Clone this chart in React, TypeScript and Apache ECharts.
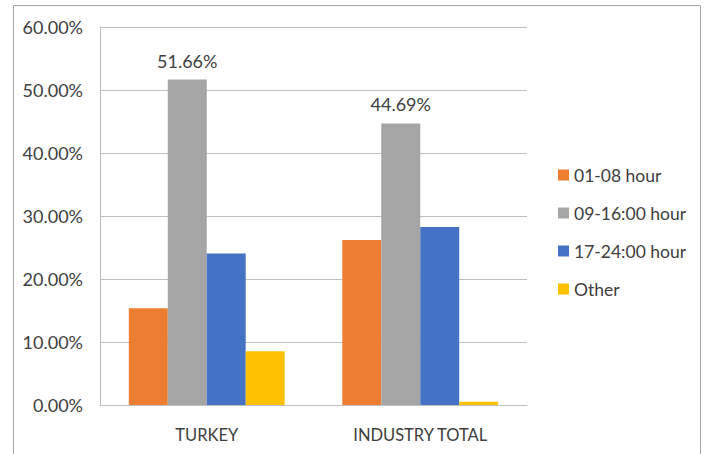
import React, { useEffect, useRef } from "react";
import * as echarts from "echarts";

const categories = ["TURKEY", "INDUSTRY TOTAL"];
const seriesNames = ["01-08 hour", "09-16:00 hour", "17-24:00 hour", "Other"];
const hours0108 = [0.1535, 0.262];
const hours0916 = [0.5166, 0.4469];
const hours1724 = [0.2406, 0.2827];
const other = [0.0853, 0.0052];
const colors = ["#ED7D31", "#A5A5A5", "#4472C4", "#FFC000"];
const yTicks = [0, 0.1, 0.2, 0.3, 0.4, 0.5, 0.6];

export default function App() {
  const ref = useRef<HTMLDivElement>(null);
  useEffect(() => {
    document.body.style.margin = "0";
    const chart = echarts.init(ref.current!, null, { renderer: "svg" });
    const font = "Lato";
    const textColor = "#404040";
    const data = [hours0108, hours0916, hours1724, other];
    chart.setOption({
      animation: false,
      backgroundColor: "#ffffff",
      textStyle: { fontFamily: font },
      graphic: [
        {
          type: "rect",
          shape: { x: 13.5, y: 5.5, width: 687, height: 470 },
          style: { fill: "none", stroke: "#a6a6a6", lineWidth: 1 },
          silent: true,
        },
      ],
      grid: { left: 100, top: 27, width: 427, height: 378, containLabel: false },
      legend: {
        orient: "vertical",
        left: 558,
        top: 166,
        padding: 0,
        itemWidth: 11,
        itemHeight: 11,
        itemGap: 20,
        icon: "rect",
        data: seriesNames,
        textStyle: { fontFamily: font, fontSize: 17.5, color: textColor },
      },
      xAxis: {
        type: "category",
        data: categories,
        axisLine: { show: true, lineStyle: { color: "#bfbfbf", width: 1 } },
        axisTick: { show: false },
        axisLabel: { fontFamily: font, fontSize: 16.5, color: textColor, margin: 21 },
      },
      yAxis: {
        type: "value",
        min: yTicks[0],
        max: yTicks[yTicks.length - 1],
        interval: 0.1,
        axisLine: { show: true, lineStyle: { color: "#bfbfbf", width: 1 } },
        axisTick: { show: false },
        splitLine: { show: true, lineStyle: { color: "#bfbfbf", width: 1 } },
        axisLabel: {
          fontFamily: font,
          fontSize: 18,
          color: textColor,
          margin: 17,
          formatter: (v: number) => (v * 100).toFixed(2) + "%",
        },
      },
      series: seriesNames.map((name, i) => ({
        name,
        type: "bar",
        data: data[i],
        barGap: "0%",
        barCategoryGap: "27%",
        itemStyle: { color: colors[i] },
        label:
          i === 1
            ? {
                show: true,
                position: "top",
                distance: 10,
                fontFamily: font,
                fontSize: 18,
                color: textColor,
                formatter: (p: any) => (p.value * 100).toFixed(2) + "%",
              }
            : { show: false },
      })),
    });
    return () => chart.dispose();
  }, []);
  return <div ref={ref} style={{ width: 708, height: 454 }} />;
}
